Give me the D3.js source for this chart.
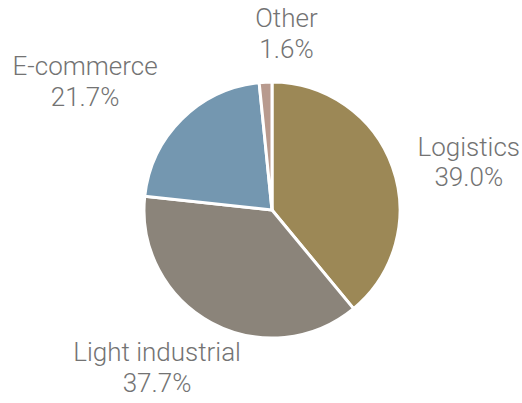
<!DOCTYPE html>
<html>
<head>
<meta charset="utf-8">
<script src="https://cdn.jsdelivr.net/npm/d3@7"></script>
<style>
  html, body { margin: 0; padding: 0; background: #fff; }
  svg text { font-family: Roboto, "Noto Sans", sans-serif; font-weight: 300; }
</style>
</head>
<body>
<svg id="chart" width="522" height="403"></svg>
<script>
// Share of space by use type (%)
const categories = ["Logistics", "Light industrial", "E-commerce", "Other"];
const shares = [39.0, 37.7, 21.7, 1.6];
const sliceColors = ["#9c8856", "#8b847a", "#7497b0", "#b89a8e"];

// Label layout: nudge from the outer-label centroid, in pixels
const labelNudges = [[18, 21], [-25, -5], [-53, 11], [24, 18]];

const width = 522, height = 403;
const cx = 272, cy = 210, radius = 128;

const svg = d3.select("#chart");
const g = svg.append("g").attr("transform", `translate(${cx},${cy})`);

const data = categories.map((c, i) => ({ name: c, value: shares[i], color: sliceColors[i], nudge: labelNudges[i] }));

const pie = d3.pie().value(d => d.value).sort(null);
const arc = d3.arc().innerRadius(0).outerRadius(radius);
const labelArc = d3.arc().innerRadius(190).outerRadius(190);

const arcs = pie(data);

g.selectAll("path.slice")
  .data(arcs)
  .join("path")
  .attr("class", "slice")
  .attr("d", arc)
  .attr("fill", d => d.data.color)
  .attr("stroke", "#fff")
  .attr("stroke-width", 3)
  .attr("stroke-linejoin", "round");

const fontSize = 26, lineGap = 30.5;

const labels = g.selectAll("text.label")
  .data(arcs)
  .join("text")
  .attr("class", "label")
  .attr("text-anchor", "middle")
  .attr("fill", "#737373")
  .attr("font-size", fontSize)
  .attr("transform", d => {
    const [x, y] = labelArc.centroid(d);
    return `translate(${x + d.data.nudge[0]},${y + d.data.nudge[1]})`;
  });

labels.append("tspan")
  .attr("x", 0)
  .attr("y", -lineGap / 2 + 0.355 * fontSize - 5)
  .text(d => d.data.name);

labels.append("tspan")
  .attr("x", 0)
  .attr("y", lineGap / 2 + 0.355 * fontSize - 5)
  .text(d => d3.format(".1f")(d.data.value) + "%");
</script>
</body>
</html>
